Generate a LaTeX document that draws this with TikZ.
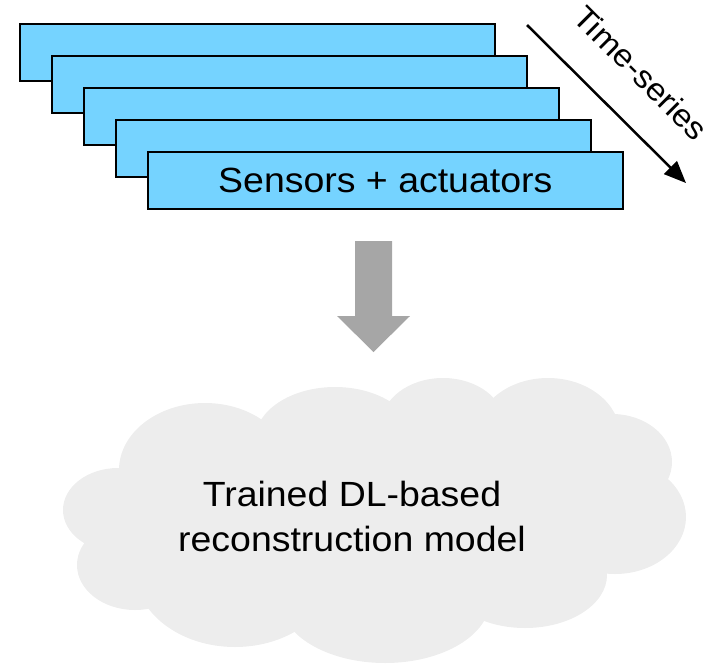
\documentclass[tikz,border=0pt]{standalone}
\usepackage{fontspec}
\setmainfont[FakeStretch=1.07]{Liberation Sans}
\usetikzlibrary{arrows.meta}
\definecolor{layerblue}{HTML}{75D3FF}
\definecolor{cloudgray}{HTML}{EDEDED}
\definecolor{blockgray}{HTML}{A6A6A6}
\tikzset{
  layer/.style={draw=black, line width=1.6pt, fill=layerblue, inner sep=0pt,
    minimum width=475pt, minimum height=57pt, anchor=north west},
  puff/.style={fill=cloudgray, draw=none},
  bigtext/.style={font=\fontsize{35}{45}\selectfont},
}
\begin{document}
\begin{tikzpicture}[x=1pt, y=-1pt]
\useasboundingbox (0,0) rectangle (715,665);

% stacked time-series frames, back to front
\node[layer] (f1) at (19,23) {};
\node[layer] (f2) at (51,55) {};
\node[layer] (f3) at (83,87) {};
\node[layer] (f4) at (115,119) {};
\node[layer, bigtext] (f5) at (147,151) {Sensors + actuators};

% time axis
\coordinate (ts0) at (527,25);
\coordinate (ts1) at (686,183);
\draw[line width=2.5pt, -{Triangle[length=22pt,width=18pt]}] (ts0) -- (ts1);
\node[rotate=-45, font=\fontsize{31.5}{36}\selectfont] (tslabel) at (641,73) {Time-series};

% cloud built from overlapping puffs
\begin{scope}
  \fill[puff] (375,520) ellipse [x radius=240, y radius=100];
  \fill[puff] (118,510) ellipse [x radius=55, y radius=42];
  \fill[puff] (205,470) ellipse [x radius=86, y radius=67];
  \fill[puff] (335,440) ellipse [x radius=80, y radius=53];
  \fill[puff] (443,425) ellipse [x radius=62, y radius=47];
  \fill[puff] (548,435) ellipse [x radius=72, y radius=57];
  \fill[puff] (612,462) ellipse [x radius=60, y radius=48];
  \fill[puff] (615,517) ellipse [x radius=71, y radius=57];
  \fill[puff] (525,575) ellipse [x radius=82, y radius=53];
  \fill[puff] (385,600) ellipse [x radius=105, y radius=63];
  \fill[puff] (235,570) ellipse [x radius=100, y radius=77];
  \fill[puff] (135,565) ellipse [x radius=58, y radius=45];
\end{scope}
\node[bigtext, align=center] (model) at (352,516) {Trained DL-based\\reconstruction model};

% block arrow from the frames to the model
\fill[blockgray] (355,241) -- (392,241) -- (392,316) -- (410,316) -- (373.5,352)
  -- (337,316) -- (355,316) -- cycle;
\end{tikzpicture}
\end{document}
